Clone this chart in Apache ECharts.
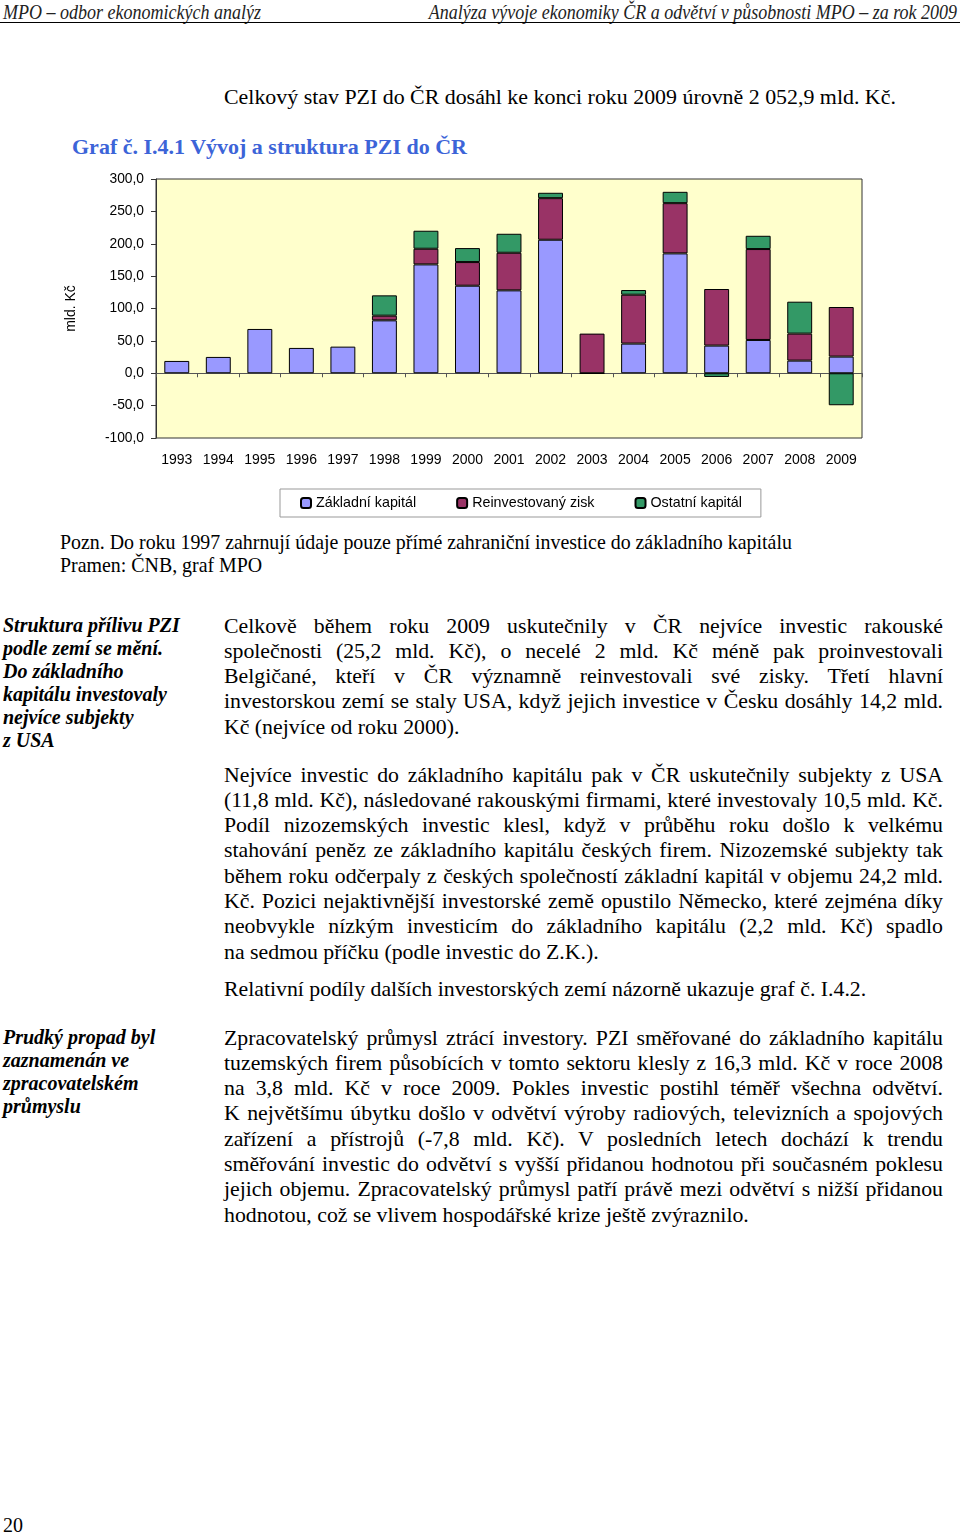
<!DOCTYPE html>
<html>
<head>
<meta charset="utf-8">
<script src="https://cdn.jsdelivr.net/npm/echarts@6/dist/echarts.min.js"></script>
<style>
    html, body {
        margin: 0;
        padding: 0;
        background: #ffffff;
    }
    .page {
        position: relative;
        width: 960px;
        height: 1534px;
        overflow: hidden;
        font-family: "Liberation Serif", "Times New Roman", serif;
        color: #000;
    }
    .t {
        position: absolute;
        white-space: nowrap;
    }
    .head {
        font-style: italic;
        font-size: 18px;
        line-height: 22px;
        color: #222;
        transform: scaleY(1.12);
        transform-origin: left center;
    }
    .rule {
        position: absolute;
        left: 0;
        top: 22px;
        width: 960px;
        height: 1px;
        background: #000;
    }
    .para {
        position: absolute;
        left: 224px;
        width: 719px;
        font-size: 21.8px;
        line-height: 25.3px;
    }
    .para div {
        text-align: justify;
        text-align-last: justify;
    }
    .para div.last {
        text-align-last: left;
    }
    .side {
        position: absolute;
        left: 3px;
        font-size: 20px;
        line-height: 23px;
        font-weight: bold;
        font-style: italic;
    }
    .chart-container {
        position: absolute;
        left: 0;
        top: 170px;
        width: 960px;
        height: 360px;
    }
</style>
</head>
<body>
<div class="page">
    <div class="t head" style="left:3px; top:1px;">MPO – odbor ekonomických analýz</div>
    <div class="t head" style="right:3px; top:1px; transform-origin:right center;">Analýza vývoje ekonomiky ČR a odvětví v působnosti MPO – za rok 2009</div>
    <div class="rule"></div>

    <div class="t" style="left:224px; top:84px; font-size:21.9px; line-height:26px;">Celkový stav PZI do ČR dosáhl ke konci roku 2009 úrovně 2 052,9 mld. Kč.</div>
    <div class="t" style="left:72px; top:134px; font-size:22px; line-height:26px; font-weight:bold; color:#3c64d8;">Graf č. I.4.1 Vývoj a struktura PZI do ČR</div>

    <div class="chart-container" id="chart"></div>

    <div class="t" style="left:60px; top:531px; font-size:19.9px; line-height:23px;">Pozn. Do roku 1997 zahrnují údaje pouze přímé zahraniční investice do základního kapitálu</div>
    <div class="t" style="left:60px; top:554px; font-size:19.9px; line-height:23px;">Pramen: ČNB, graf MPO</div>

    <div class="side" style="top:613.5px;">
        <div>Struktura přílivu PZI</div>
        <div>podle zemí se mění.</div>
        <div>Do základního</div>
        <div>kapitálu investovaly</div>
        <div>nejvíce subjekty</div>
        <div>z USA</div>
    </div>

    <div class="para" style="top:613.5px;">
        <div>Celkově během roku 2009 uskutečnily v ČR nejvíce investic rakouské</div>
        <div>společnosti (25,2 mld. Kč), o necelé 2 mld. Kč méně pak proinvestovali</div>
        <div>Belgičané, kteří v ČR významně reinvestovali své zisky. Třetí hlavní</div>
        <div>investorskou zemí se staly USA, když jejich investice v Česku dosáhly 14,2 mld.</div>
        <div class="last">Kč (nejvíce od roku 2000).</div>
    </div>

    <div class="para" style="top:762.5px;">
        <div>Nejvíce investic do základního kapitálu pak v ČR uskutečnily subjekty z USA</div>
        <div>(11,8 mld. Kč), následované rakouskými firmami, které investovaly 10,5 mld. Kč.</div>
        <div>Podíl nizozemských investic klesl, když v průběhu roku došlo k velkému</div>
        <div>stahování peněz ze základního kapitálu českých firem. Nizozemské subjekty tak</div>
        <div>během roku odčerpaly z českých společností základní kapitál v objemu 24,2 mld.</div>
        <div>Kč. Pozici nejaktivnější investorské země opustilo Německo, které zejména díky</div>
        <div>neobvykle nízkým investicím do základního kapitálu (2,2 mld. Kč) spadlo</div>
        <div class="last">na sedmou příčku (podle investic do Z.K.).</div>
    </div>

    <div class="para" style="top:976.5px;">
        <div class="last">Relativní podíly dalších investorských zemí názorně ukazuje graf č. I.4.2.</div>
    </div>

    <div class="side" style="top:1025.5px;">
        <div>Prudký propad byl</div>
        <div>zaznamenán ve</div>
        <div>zpracovatelském</div>
        <div>průmyslu</div>
    </div>

    <div class="para" style="top:1025.5px;">
        <div>Zpracovatelský průmysl ztrácí investory. PZI směřované do základního kapitálu</div>
        <div>tuzemských firem působících v tomto sektoru klesly z 16,3 mld. Kč v roce 2008</div>
        <div>na 3,8 mld. Kč v roce 2009. Pokles investic postihl téměř všechna odvětví.</div>
        <div>K největšímu úbytku došlo v odvětví výroby radiových, televizních a spojových</div>
        <div>zařízení a přístrojů (-7,8 mld. Kč). V posledních letech dochází k trendu</div>
        <div>směřování investic do odvětví s vyšší přidanou hodnotou při současném poklesu</div>
        <div>jejich objemu. Zpracovatelský průmysl patří právě mezi odvětví s nižší přidanou</div>
        <div class="last">hodnotou, což se vlivem hospodářské krize ještě zvýraznilo.</div>
    </div>

    <div class="t" style="left:3px; top:1513px; font-size:20px; line-height:24px;">20</div>
</div>
<script>
// roky a hodnoty v mld. Kč
const years = ['1993', '1994', '1995', '1996', '1997', '1998', '1999', '2000', '2001',
    '2002', '2003', '2004', '2005', '2006', '2007', '2008', '2009'];
const zakladniKapital = [19.0, 25.2, 68.4, 39.1, 41.1, 81.7, 168.1, 135.2, 128.0,
    206.2, -0.5, 45.8, 185.1, 42.7, 51.4, 19.5, 25.7];
const reinvestovanyZisk = [null, null, null, null, null, 7.2, 24.2, 36.5, 58.1,
    64.2, 61.2, 75.5, 77.6, 87.4, 140.4, 41.7, 76.6];
const ostatniKapital = [null, null, null, null, null, 31.4, 27.8, 21.6, 29.3,
    8.3, null, 7.2, 17.5, -5.7, 20.5, 49.3, -49.4];
const yTicks = { min: -100, max: 300, interval: 50 };

// radky zarovnane do bloku nesmi zalomit
document.querySelectorAll('.para div').forEach((el) => {
    let ls = 0;
    while (el.getBoundingClientRect().height > 30 && ls > -1.5) {
        ls -= 0.05;
        el.style.letterSpacing = ls + 'px';
    }
});

const chart = echarts.init(document.getElementById('chart'));

const labelFont = {
    fontFamily: '"Liberation Sans", Arial, sans-serif',
    color: '#000'
};

const barStyle = (color) => ({
    color: color,
    borderColor: '#000',
    borderWidth: 1
});

chart.setOption({
    animation: false,
    grid: {
        left: 156,
        top: 9,
        width: 706,
        height: 259,
        show: true,
        backgroundColor: '#ffffcc',
        borderColor: '#333',
        borderWidth: 1
    },
    legend: {
        left: 280,
        top: 319,
        padding: [7, 19, 7, 20],
        itemWidth: 10,
        itemHeight: 10,
        itemGap: 40,
        borderColor: '#999',
        borderWidth: 1,
        backgroundColor: '#fff',
        textStyle: Object.assign({ fontSize: 14.3 }, labelFont),
        data: ['Základní kapitál', 'Reinvestovaný zisk', 'Ostatní kapitál']
    },
    xAxis: [
        {
            type: 'category',
            data: years,
            position: 'bottom',
            axisLine: { show: false, onZero: false },
            axisTick: { show: false },
            axisLabel: Object.assign({ fontSize: 14, margin: 15 }, labelFont)
        },
        {
            type: 'category',
            data: years,
            position: 'bottom',
            axisLine: { show: true, onZero: true, lineStyle: { color: '#555', width: 1 } },
            axisTick: { show: true, length: 4, lineStyle: { color: '#555' } },
            axisLabel: { show: false },
            splitLine: { show: false }
        }
    ],
    yAxis: {
        type: 'value',
        min: yTicks.min,
        max: yTicks.max,
        interval: yTicks.interval,
        name: 'mld. Kč',
        nameLocation: 'middle',
        nameGap: 78,
        nameTextStyle: Object.assign({ fontSize: 14 }, labelFont),
        axisLine: { show: true, lineStyle: { color: '#333' } },
        axisTick: { show: true, length: 5, lineStyle: { color: '#333' } },
        splitLine: { show: false },
        axisLabel: Object.assign({
            fontSize: 13.8,
            margin: 12,
            formatter: (v) => v.toFixed(1).replace('.', ',')
        }, labelFont)
    },
    series: [
        {
            name: 'Základní kapitál',
            type: 'bar',
            stack: 'pzi',
            barWidth: '60%',
            itemStyle: barStyle('#9999ff'),
            data: zakladniKapital
        },
        {
            name: 'Reinvestovaný zisk',
            type: 'bar',
            stack: 'pzi',
            barWidth: '60%',
            itemStyle: barStyle('#993366'),
            data: reinvestovanyZisk
        },
        {
            name: 'Ostatní kapitál',
            type: 'bar',
            stack: 'pzi',
            barWidth: '60%',
            itemStyle: barStyle('#339966'),
            data: ostatniKapital
        }
    ]
});
</script>
</body>
</html>
